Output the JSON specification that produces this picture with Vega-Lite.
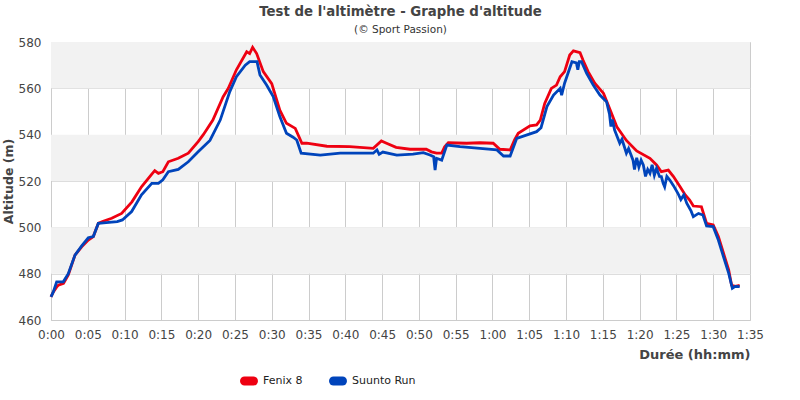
{
  "$schema": "https://vega.github.io/schema/vega-lite/v6.json",
  "width": 699,
  "height": 278,
  "autosize": "none",
  "padding": {"left": 51, "top": 42, "right": 50, "bottom": 80},
  "background": "white",
  "title": {
    "text": "Test de l'altimètre - Graphe d'altitude",
    "subtitle": "(© Sport Passion)",
    "anchor": "middle",
    "font": "DejaVu Sans",
    "fontSize": 13.3,
    "fontWeight": "bold",
    "color": "#444444",
    "subtitleFont": "DejaVu Sans",
    "subtitleFontSize": 10.5,
    "subtitleColor": "#333333",
    "subtitlePadding": 6,
    "offset": 1
  },
  "config": {
    "view": {"stroke": "#cccccc", "strokeWidth": 1},
    "font": "DejaVu Sans"
  },
  "datasets": {
    "bands": [
      {"lo": 480, "hi": 500},
      {"lo": 520, "hi": 540},
      {"lo": 560, "hi": 580}
    ],
    "alt": [
      {"s": "Fenix 8", "t": 0.0, "alt": 470},
      {"s": "Fenix 8", "t": 0.3, "alt": 472},
      {"s": "Fenix 8", "t": 0.8, "alt": 474.4},
      {"s": "Fenix 8", "t": 1.0, "alt": 475},
      {"s": "Fenix 8", "t": 1.7, "alt": 475.8},
      {"s": "Fenix 8", "t": 2.35, "alt": 479.5},
      {"s": "Fenix 8", "t": 3.26, "alt": 488},
      {"s": "Fenix 8", "t": 4.17, "alt": 491.6},
      {"s": "Fenix 8", "t": 5.07, "alt": 494.5},
      {"s": "Fenix 8", "t": 5.75, "alt": 496},
      {"s": "Fenix 8", "t": 6.43, "alt": 501.7},
      {"s": "Fenix 8", "t": 7.0, "alt": 502.5},
      {"s": "Fenix 8", "t": 8.25, "alt": 503.9},
      {"s": "Fenix 8", "t": 9.6, "alt": 506},
      {"s": "Fenix 8", "t": 11.0, "alt": 511},
      {"s": "Fenix 8", "t": 12.3, "alt": 517.5},
      {"s": "Fenix 8", "t": 13.7, "alt": 523},
      {"s": "Fenix 8", "t": 14.1, "alt": 524.5},
      {"s": "Fenix 8", "t": 14.6, "alt": 523.3},
      {"s": "Fenix 8", "t": 15.2, "alt": 524},
      {"s": "Fenix 8", "t": 15.95, "alt": 528.3},
      {"s": "Fenix 8", "t": 17.3, "alt": 529.8},
      {"s": "Fenix 8", "t": 18.66, "alt": 532},
      {"s": "Fenix 8", "t": 20.0, "alt": 537},
      {"s": "Fenix 8", "t": 20.7, "alt": 540},
      {"s": "Fenix 8", "t": 22.0, "alt": 546.3},
      {"s": "Fenix 8", "t": 23.4, "alt": 556.4},
      {"s": "Fenix 8", "t": 24.1, "alt": 560},
      {"s": "Fenix 8", "t": 25.2, "alt": 568},
      {"s": "Fenix 8", "t": 26.6, "alt": 575.8},
      {"s": "Fenix 8", "t": 27.0, "alt": 575},
      {"s": "Fenix 8", "t": 27.4, "alt": 577.7},
      {"s": "Fenix 8", "t": 27.95, "alt": 575},
      {"s": "Fenix 8", "t": 28.85, "alt": 567.2},
      {"s": "Fenix 8", "t": 30.0, "alt": 562},
      {"s": "Fenix 8", "t": 31.1, "alt": 550.6},
      {"s": "Fenix 8", "t": 32.0, "alt": 544.9},
      {"s": "Fenix 8", "t": 33.2, "alt": 542.7},
      {"s": "Fenix 8", "t": 34.1, "alt": 536.3},
      {"s": "Fenix 8", "t": 34.75, "alt": 536.3},
      {"s": "Fenix 8", "t": 37.5, "alt": 535},
      {"s": "Fenix 8", "t": 40.6, "alt": 534.8},
      {"s": "Fenix 8", "t": 43.8, "alt": 534.1},
      {"s": "Fenix 8", "t": 44.9, "alt": 537.3},
      {"s": "Fenix 8", "t": 45.6, "alt": 536.3},
      {"s": "Fenix 8", "t": 46.9, "alt": 534.5},
      {"s": "Fenix 8", "t": 48.8, "alt": 533.7},
      {"s": "Fenix 8", "t": 51.0, "alt": 533.7},
      {"s": "Fenix 8", "t": 51.7, "alt": 532.6},
      {"s": "Fenix 8", "t": 52.4, "alt": 532},
      {"s": "Fenix 8", "t": 53.1, "alt": 532},
      {"s": "Fenix 8", "t": 53.5, "alt": 534.8},
      {"s": "Fenix 8", "t": 54.0, "alt": 536.5},
      {"s": "Fenix 8", "t": 56.5, "alt": 536.3},
      {"s": "Fenix 8", "t": 58.3, "alt": 536.5},
      {"s": "Fenix 8", "t": 60.1, "alt": 536.3},
      {"s": "Fenix 8", "t": 61.0, "alt": 533.7},
      {"s": "Fenix 8", "t": 62.4, "alt": 533.4},
      {"s": "Fenix 8", "t": 63.0, "alt": 537.7},
      {"s": "Fenix 8", "t": 63.5, "alt": 540.6},
      {"s": "Fenix 8", "t": 65.1, "alt": 543.8},
      {"s": "Fenix 8", "t": 66.0, "alt": 544.2},
      {"s": "Fenix 8", "t": 66.5, "alt": 546.3},
      {"s": "Fenix 8", "t": 67.1, "alt": 553.5},
      {"s": "Fenix 8", "t": 68.0, "alt": 560},
      {"s": "Fenix 8", "t": 68.7, "alt": 561.4},
      {"s": "Fenix 8", "t": 69.2, "alt": 565},
      {"s": "Fenix 8", "t": 69.8, "alt": 567.2},
      {"s": "Fenix 8", "t": 70.5, "alt": 574.4},
      {"s": "Fenix 8", "t": 71.0, "alt": 576.2},
      {"s": "Fenix 8", "t": 71.9, "alt": 575.4},
      {"s": "Fenix 8", "t": 72.3, "alt": 572.2},
      {"s": "Fenix 8", "t": 73.0, "alt": 567.2},
      {"s": "Fenix 8", "t": 73.9, "alt": 562.2},
      {"s": "Fenix 8", "t": 75.1, "alt": 557.8},
      {"s": "Fenix 8", "t": 76.0, "alt": 550.6},
      {"s": "Fenix 8", "t": 76.9, "alt": 543.4},
      {"s": "Fenix 8", "t": 78.2, "alt": 537.5},
      {"s": "Fenix 8", "t": 79.6, "alt": 533},
      {"s": "Fenix 8", "t": 81.4, "alt": 529.8},
      {"s": "Fenix 8", "t": 82.3, "alt": 526.9},
      {"s": "Fenix 8", "t": 82.95, "alt": 524},
      {"s": "Fenix 8", "t": 83.9, "alt": 524.7},
      {"s": "Fenix 8", "t": 84.6, "alt": 521.9},
      {"s": "Fenix 8", "t": 85.5, "alt": 517.5},
      {"s": "Fenix 8", "t": 86.2, "alt": 514},
      {"s": "Fenix 8", "t": 86.8, "alt": 511.8},
      {"s": "Fenix 8", "t": 87.3, "alt": 509.2},
      {"s": "Fenix 8", "t": 88.4, "alt": 508.9},
      {"s": "Fenix 8", "t": 89.1, "alt": 501.7},
      {"s": "Fenix 8", "t": 90.0, "alt": 501},
      {"s": "Fenix 8", "t": 90.7, "alt": 496},
      {"s": "Fenix 8", "t": 91.4, "alt": 488.8},
      {"s": "Fenix 8", "t": 92.1, "alt": 481.6},
      {"s": "Fenix 8", "t": 92.5, "alt": 475},
      {"s": "Fenix 8", "t": 93.0, "alt": 474.5},
      {"s": "Fenix 8", "t": 93.6, "alt": 475},
      {"s": "Suunto Run", "t": 0.0, "alt": 470},
      {"s": "Suunto Run", "t": 0.3, "alt": 472},
      {"s": "Suunto Run", "t": 0.77, "alt": 476.5},
      {"s": "Suunto Run", "t": 1.67, "alt": 476.5},
      {"s": "Suunto Run", "t": 2.35, "alt": 480},
      {"s": "Suunto Run", "t": 3.26, "alt": 488},
      {"s": "Suunto Run", "t": 4.17, "alt": 492},
      {"s": "Suunto Run", "t": 5.07, "alt": 495.5},
      {"s": "Suunto Run", "t": 5.75, "alt": 496},
      {"s": "Suunto Run", "t": 6.43, "alt": 501.7},
      {"s": "Suunto Run", "t": 7.5, "alt": 502},
      {"s": "Suunto Run", "t": 9.0, "alt": 502.5},
      {"s": "Suunto Run", "t": 9.7, "alt": 503.2},
      {"s": "Suunto Run", "t": 10.96, "alt": 506.8},
      {"s": "Suunto Run", "t": 12.3, "alt": 514},
      {"s": "Suunto Run", "t": 13.7, "alt": 519},
      {"s": "Suunto Run", "t": 14.6, "alt": 519},
      {"s": "Suunto Run", "t": 15.2, "alt": 520.5},
      {"s": "Suunto Run", "t": 15.95, "alt": 524},
      {"s": "Suunto Run", "t": 17.3, "alt": 525},
      {"s": "Suunto Run", "t": 18.66, "alt": 528.3},
      {"s": "Suunto Run", "t": 20.0, "alt": 532.6},
      {"s": "Suunto Run", "t": 21.6, "alt": 537.5},
      {"s": "Suunto Run", "t": 23.0, "alt": 546.3},
      {"s": "Suunto Run", "t": 24.3, "alt": 558.6},
      {"s": "Suunto Run", "t": 25.2, "alt": 565},
      {"s": "Suunto Run", "t": 26.4, "alt": 570},
      {"s": "Suunto Run", "t": 27.0, "alt": 571.5},
      {"s": "Suunto Run", "t": 28.0, "alt": 571.5},
      {"s": "Suunto Run", "t": 28.4, "alt": 565.8},
      {"s": "Suunto Run", "t": 29.3, "alt": 561.4},
      {"s": "Suunto Run", "t": 30.2, "alt": 556.4},
      {"s": "Suunto Run", "t": 31.1, "alt": 547.8},
      {"s": "Suunto Run", "t": 32.0, "alt": 540.6},
      {"s": "Suunto Run", "t": 32.9, "alt": 538.9},
      {"s": "Suunto Run", "t": 33.4, "alt": 537.7},
      {"s": "Suunto Run", "t": 34.0, "alt": 532},
      {"s": "Suunto Run", "t": 36.6, "alt": 531.2},
      {"s": "Suunto Run", "t": 39.3, "alt": 532},
      {"s": "Suunto Run", "t": 43.8, "alt": 532},
      {"s": "Suunto Run", "t": 44.3, "alt": 533.4},
      {"s": "Suunto Run", "t": 44.6, "alt": 531.5},
      {"s": "Suunto Run", "t": 45.1, "alt": 532.5},
      {"s": "Suunto Run", "t": 47.0, "alt": 531.2},
      {"s": "Suunto Run", "t": 49.2, "alt": 531.6},
      {"s": "Suunto Run", "t": 50.6, "alt": 532.2},
      {"s": "Suunto Run", "t": 51.5, "alt": 531.2},
      {"s": "Suunto Run", "t": 52.0, "alt": 530.5},
      {"s": "Suunto Run", "t": 52.2, "alt": 524.7},
      {"s": "Suunto Run", "t": 52.4, "alt": 529.8},
      {"s": "Suunto Run", "t": 53.1, "alt": 529},
      {"s": "Suunto Run", "t": 53.8, "alt": 535.5},
      {"s": "Suunto Run", "t": 55.6, "alt": 534.8},
      {"s": "Suunto Run", "t": 58.3, "alt": 534.1},
      {"s": "Suunto Run", "t": 60.6, "alt": 533.4},
      {"s": "Suunto Run", "t": 61.5, "alt": 530.8},
      {"s": "Suunto Run", "t": 62.4, "alt": 530.8},
      {"s": "Suunto Run", "t": 63.3, "alt": 538.4},
      {"s": "Suunto Run", "t": 64.7, "alt": 539.9},
      {"s": "Suunto Run", "t": 66.0, "alt": 541.3},
      {"s": "Suunto Run", "t": 66.6, "alt": 543},
      {"s": "Suunto Run", "t": 67.4, "alt": 552.1},
      {"s": "Suunto Run", "t": 68.3, "alt": 557.1},
      {"s": "Suunto Run", "t": 69.2, "alt": 560},
      {"s": "Suunto Run", "t": 69.4, "alt": 557},
      {"s": "Suunto Run", "t": 69.8, "alt": 562.2},
      {"s": "Suunto Run", "t": 70.8, "alt": 571.5},
      {"s": "Suunto Run", "t": 71.4, "alt": 571},
      {"s": "Suunto Run", "t": 71.6, "alt": 568},
      {"s": "Suunto Run", "t": 71.8, "alt": 571.5},
      {"s": "Suunto Run", "t": 72.1, "alt": 571.5},
      {"s": "Suunto Run", "t": 72.8, "alt": 566.5},
      {"s": "Suunto Run", "t": 73.7, "alt": 561.4},
      {"s": "Suunto Run", "t": 74.6, "alt": 557.1},
      {"s": "Suunto Run", "t": 75.5, "alt": 554.2},
      {"s": "Suunto Run", "t": 75.9, "alt": 549},
      {"s": "Suunto Run", "t": 76.1, "alt": 543.5},
      {"s": "Suunto Run", "t": 76.3, "alt": 546.5},
      {"s": "Suunto Run", "t": 76.6, "alt": 542},
      {"s": "Suunto Run", "t": 77.3, "alt": 536.3},
      {"s": "Suunto Run", "t": 77.6, "alt": 538},
      {"s": "Suunto Run", "t": 78.2, "alt": 532},
      {"s": "Suunto Run", "t": 78.5, "alt": 534},
      {"s": "Suunto Run", "t": 79.1, "alt": 529},
      {"s": "Suunto Run", "t": 79.3, "alt": 525},
      {"s": "Suunto Run", "t": 79.6, "alt": 530},
      {"s": "Suunto Run", "t": 79.9, "alt": 526},
      {"s": "Suunto Run", "t": 80.2, "alt": 529},
      {"s": "Suunto Run", "t": 80.5, "alt": 526.9},
      {"s": "Suunto Run", "t": 80.8, "alt": 522},
      {"s": "Suunto Run", "t": 81.1, "alt": 525},
      {"s": "Suunto Run", "t": 81.4, "alt": 523.3},
      {"s": "Suunto Run", "t": 81.7, "alt": 527},
      {"s": "Suunto Run", "t": 82.0, "alt": 522.5},
      {"s": "Suunto Run", "t": 82.3, "alt": 525.5},
      {"s": "Suunto Run", "t": 82.7, "alt": 522},
      {"s": "Suunto Run", "t": 82.95, "alt": 521.9},
      {"s": "Suunto Run", "t": 83.2, "alt": 519},
      {"s": "Suunto Run", "t": 83.4, "alt": 517.5},
      {"s": "Suunto Run", "t": 83.7, "alt": 522},
      {"s": "Suunto Run", "t": 84.1, "alt": 520.4},
      {"s": "Suunto Run", "t": 84.6, "alt": 518},
      {"s": "Suunto Run", "t": 85.2, "alt": 514.7},
      {"s": "Suunto Run", "t": 85.6, "alt": 512},
      {"s": "Suunto Run", "t": 86.0, "alt": 514},
      {"s": "Suunto Run", "t": 86.4, "alt": 510.4},
      {"s": "Suunto Run", "t": 87.0, "alt": 507},
      {"s": "Suunto Run", "t": 87.3, "alt": 504.6},
      {"s": "Suunto Run", "t": 88.0, "alt": 506},
      {"s": "Suunto Run", "t": 88.6, "alt": 505.3},
      {"s": "Suunto Run", "t": 89.1, "alt": 500.6},
      {"s": "Suunto Run", "t": 90.0, "alt": 500.3},
      {"s": "Suunto Run", "t": 90.7, "alt": 494.5},
      {"s": "Suunto Run", "t": 91.4, "alt": 487.3},
      {"s": "Suunto Run", "t": 92.1, "alt": 480.2},
      {"s": "Suunto Run", "t": 92.6, "alt": 473.7},
      {"s": "Suunto Run", "t": 93.0, "alt": 474.5},
      {"s": "Suunto Run", "t": 93.6, "alt": 474.4}
    ]
  },
  "layer": [
    {
      "data": {"name": "bands"},
      "mark": {"type": "rect", "color": "#f2f2f2"},
      "encoding": {
        "y": {"field": "lo", "type": "quantitative", "scale": {"domain": [460, 580]}},
        "y2": {"field": "hi"}
      }
    },
    {
      "data": {"name": "alt"},
      "mark": {"type": "line", "strokeWidth": 2.8},
      "encoding": {
        "x": {
          "field": "t",
          "type": "quantitative",
          "scale": {"domain": [0, 95], "nice": false},
          "axis": {
            "values": [0, 5, 10, 15, 20, 25, 30, 35, 40, 45, 50, 55, 60, 65, 70, 75, 80, 85, 90, 95],
            "labelExpr": "floor(datum.value/60) + ':' + (datum.value%60 < 10 ? '0' : '') + (datum.value%60)",
            "labelOverlap": false,
            "labelFlush": false,
            "title": "Durée (hh:mm)",
            "titleAnchor": "end",
            "titleAlign": "right",
            "titleFontWeight": "bold",
            "titleFontSize": 13,
            "titleColor": "#444444",
            "titlePadding": 8,
            "labelFontSize": 12,
            "labelColor": "#444444",
            "labelPadding": 9,
            "tickSize": 0,
            "domainColor": "#cccccc",
            "gridColor": "#cccccc",
            "grid": true
          }
        },
        "y": {
          "field": "alt",
          "type": "quantitative",
          "scale": {"domain": [460, 580], "nice": false, "zero": false},
          "axis": {
            "values": [460, 480, 500, 520, 540, 560, 580],
            "title": "Altitude (m)",
            "titleFontWeight": "bold",
            "titleFontSize": 12.5,
            "titleColor": "#444444",
            "titlePadding": 3,
            "labelFontSize": 12,
            "labelColor": "#444444",
            "labelPadding": 10,
            "tickSize": 0,
            "domainColor": "#cccccc",
            "gridColor": "#dddddd",
            "grid": true
          }
        },
        "color": {
          "field": "s",
          "type": "nominal",
          "scale": {"domain": ["Fenix 8", "Suunto Run"], "range": ["#ee0011", "#0044bb"]},
          "legend": {
            "title": null,
            "orient": "none",
            "direction": "horizontal",
            "legendX": 189,
            "legendY": 330,
            "symbolType": "stroke",
            "symbolSize": 80,
            "symbolStrokeWidth": 9,
            "labelFontSize": 11,
            "labelColor": "#222222",
            "labelOffset": 5,
            "columnPadding": 12,
            "encode": {"symbols": {"update": {"strokeCap": {"value": "round"}}}}
          }
        }
      }
    }
  ]
}
